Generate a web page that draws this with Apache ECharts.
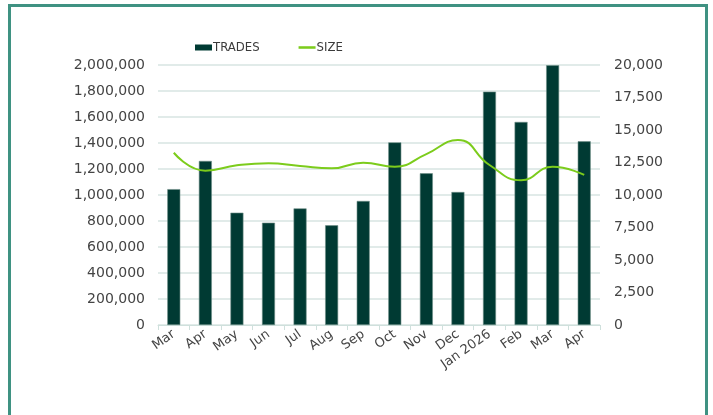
<!DOCTYPE html>
<html>
<head>
<meta charset="utf-8">
<script src="https://cdn.jsdelivr.net/npm/echarts@6/dist/echarts.min.js"></script>
<style>
html,body{margin:0;padding:0;background:#fff;}
#wrap{position:relative;width:713px;height:415px;overflow:hidden;}
#chart{position:absolute;left:0;top:0;width:713px;height:415px;}
#frame{position:absolute;left:8px;top:4px;width:694px;height:420px;border:3px solid #3f9282;border-bottom:none;pointer-events:none;}
</style>
</head>
<body>
<div id="wrap"><div id="chart"></div><div id="frame"></div></div>
<script>
const categories = ['Mar','Apr','May','Jun','Jul','Aug','Sep','Oct','Nov','Dec','Jan 2026','Feb','Mar','Apr'];
const trades = [1045000,1262000,864000,787000,897000,767000,954000,1405000,1167000,1023000,1795000,1562000,1998000,1413000];
const size = [13250,11870,12280,12440,12230,12050,12490,12180,13150,14230,12310,11130,12180,11540];
const leftTicks = {min:0, max:2000000, interval:200000};
const rightTicks = {min:0, max:20000, interval:2500};

const chart = echarts.init(document.getElementById('chart'), null, {renderer:'canvas'});
const txt = '#444444';
const font = 'DejaVu Sans';
chart.setOption({
  animation:false,
  legend:{
    left:195, top:41, padding:0,
    itemGap:39,
    itemWidth:17, itemHeight:6,
    textStyle:{fontFamily:'DejaVu Sans Condensed', fontSize:13, color:'#3a3a3a', padding:[0,0,0,-4]},
    data:[
      {name:'TRADES', icon:'rect', itemStyle:{color:'#003a33', borderWidth:0}},
      {name:'SIZE', icon:'path://M0,0 L20,0 L20,3 L0,3 Z', itemStyle:{color:'#7ccc1c', borderWidth:0}}
    ]
  },
  grid:{left:158, right:113, top:65, bottom:90, containLabel:false},
  xAxis:{
    type:'category',
    data:categories,
    axisLine:{lineStyle:{color:'#cfe0dc', width:1}},
    axisTick:{show:true, alignWithLabel:false, length:5, lineStyle:{color:'#cfe0dc'}},
    axisLabel:{rotate:35, fontFamily:font, fontSize:13, color:txt, margin:8, interval:0}
  },
  yAxis:[
    {
      type:'value', min:leftTicks.min, max:leftTicks.max, interval:leftTicks.interval,
      axisLine:{show:false}, axisTick:{show:false},
      splitLine:{lineStyle:{color:'#d7e5e2', width:1.5}},
      axisLabel:{fontFamily:font, fontSize:14, color:txt, margin:13,
        formatter:v=>v.toLocaleString('en-US')}
    },
    {
      type:'value', min:rightTicks.min, max:rightTicks.max, interval:rightTicks.interval,
      axisLine:{show:false}, axisTick:{show:false}, splitLine:{show:false},
      axisLabel:{fontFamily:font, fontSize:14, color:txt, margin:14,
        formatter:v=>v.toLocaleString('en-US')}
    }
  ],
  series:[
    {
      name:'TRADES', type:'bar', data:trades, yAxisIndex:0, barWidth:13,
      itemStyle:{color:'#003a33', borderColor:'#6e8e88', borderWidth:0.6}
    },
    {
      name:'SIZE', type:'line', data:size, yAxisIndex:1, smooth:0.5,
      showSymbol:false, symbol:'none',
      lineStyle:{color:'#7ccc1c', width:2},
      itemStyle:{color:'#7ccc1c'}
    }
  ]
});
</script>
</body>
</html>
